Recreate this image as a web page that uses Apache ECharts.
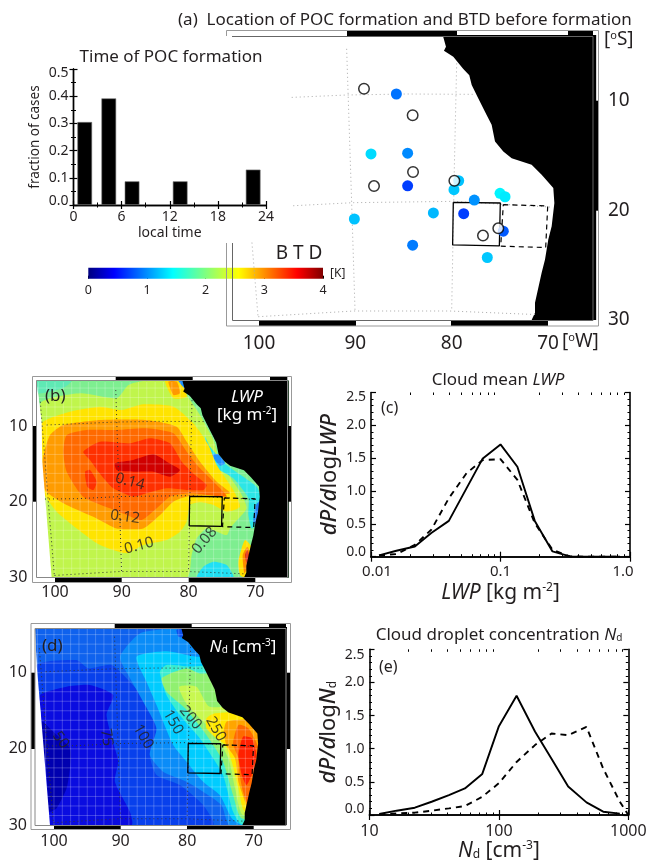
<!DOCTYPE html>
<html><head><meta charset="utf-8">
<style>html,body{margin:0;padding:0;background:#fff}#c{width:650px;height:863px}</style>
<script src="https://cdn.jsdelivr.net/npm/echarts@6/dist/echarts.min.js"></script>
</head><body><div id="c"></div>
<script>
// ---------- inset: time of POC formation
const hourBins = [1.4, 4.4, 7.3, 13.3, 22.4];
const hourFractions = [0.305, 0.392, 0.087, 0.087, 0.13];
// ---------- panel (a): [lon, lat, BTD]
const pocFilled = [[85.74,9.39,0.95],[88.37,14.85,1.36],[84.57,14.79,1.04],[84.57,17.76,0.74],[79.27,17.3,1.26],[79.76,18.12,1.28],[77.65,19.06,1.07],[74.98,18.45,1.46],[74.46,18.76,1.42],[81.9,20.24,1.22],[78.75,20.3,0.74],[74.64,21.9,0.85],[90.1,20.79,1.26],[84.05,23.18,0.98],[76.3,24.3,1.28]];
const pocOpen = [[89.1,8.91],[84.05,11.33],[84.01,16.5],[88.06,17.79],[79.72,17.3],[75.16,21.64],[76.75,22.3]];
const btdTicks = [0,1,2,3,4];
const jetColors = ['#00007f','#0000ff','#00ffff','#ffff00','#ff0000','#7f0000'];
const jetStops = [0,0.11,0.36,0.64,0.89,1];
const coast = [[80.93,4.0],[80.59,5.09],[80.8,5.45],[79.83,6.0],[78.79,7.12],[78.17,7.67],[77.92,8.58],[77.23,9.79],[76.37,11.3],[75.85,12.2],[75.5,13.73],[74.64,14.64],[73.77,15.24],[71.7,15.85],[70.66,16.76],[69.45,17.97],[69.34,19.33],[69.62,21.45],[69.97,22.67],[70.31,24.48],[70.66,25.7],[71.35,28.42],[71.35,29.33],[71.7,30],[65,30],[65,4.0]];
const parallel10 = [[101.25,9.87],[96.6,9.7],[90.9,9.48],[84.67,9.39],[77.75,9.42]];
const parallel20 = [[101.5,19.63],[96.44,19.58],[90.2,19.3],[79.8,19.18],[69.8,19.7]];
const parallel30 = [[100.07,29.7],[90.2,29.18],[80.2,29.18],[71.35,29.5]];
const meridian100 = [[102.2,6.8],[100.73,22.94],[100.1,29.66]];
const meridian90 = [[90.9,5.27],[90.38,19.33],[90.03,29.18]];
const meridian80 = [[79.48,6.6],[79.72,16],[80,29.18]];
const solidBox = [[79.83,19.27],[74.95,19.33],[75.05,23.24],[79.9,23.15],[79.83,19.27]];
const dashedBox = [[74.64,19.48],[70.03,19.6],[70.24,23.39],[74.91,23.27],[74.64,19.48]];
const latticeLons = [102.5,101.25,100,98.75,97.5,96.25,95,93.75,92.5,91.25,90,88.75,87.5,86.25,85,83.75,82.5,81.25,80,78.75,77.5,76.25,75,73.75,72.5,71.25,70,68.75];
const latticeLats = [5,6.25,7.5,8.75,10,11.25,12.5,13.75,15,16.25,17.5,18.75,20,21.25,22.5,23.75,25,26.25,27.5,28.75];
// ---------- panel (b): LWP contour bands, painted in order
const lwpBase = [[102.8,4.0],[65,4.0],[65,30],[100.5,30],[101.9,14.7],[102.0,9.4]];
const lwpOutside = [[102.8,4.0],[102.0,9.4],[101.9,14.7],[100.5,30],[103.5,30],[103.5,4.0]];
const lwpTeal = [[102.8,4.0],[97.5,4.0],[98.75,5.0],[102.55,5.7]];
const lwp080 = [[102.15,7.0],[96.25,5.7],[90.76,6.35],[89.0,4.6],[86.77,4.07],[81.78,4.07],[80.28,5.9],[78.28,8.55],[76.28,11.85],[75.28,14.7],[72.29,18.66],[71.3,20.86],[73.29,22.96],[73.79,23.5],[74.29,24.38],[77.28,23.5],[78.78,24.81],[79.53,27.0],[80.28,30],[100.5,30],[101.9,14.7]];
const lwpCoastLow = [[77.53,11.41],[76.78,12.73],[74.29,15.14],[69.79,18.0],[69.19,19.54],[69.54,22.62],[70.54,23.5],[71.04,21.74],[71.04,19.54],[73.29,16.9],[75.78,15.58],[77.03,13.82]];
const lwpCoastMinA = [[76.53,13.82],[75.53,13.74],[74.53,14.92],[75.28,15.23]];
const lwpCoastMinB = [[69.9,20.42],[68.8,19.54],[69.54,23.06],[70.29,22.62]];
const lwpSouthLow = [[78.78,30],[77.78,28.55],[76.28,27.89],[74.29,28.33],[73.29,30]];
const lwpNorthY = [[83.52,4.02],[81.03,4.02],[80.28,6.13],[82.27,6.35]];
const lwpNorthO = [[83.02,4.15],[81.78,4.15],[81.28,5.69],[82.27,5.91]];
const lwpNorthB = [[81.53,4.0],[80.48,4.0],[80.48,5.12]];
const lwp100 = [[102.0,9.65],[97.75,8.11],[93.26,7.45],[90.01,7.89],[86.77,7.14],[82.27,7.45],[79.28,9.65],[77.03,12.51],[75.78,15.14],[73.29,18.44],[72.29,20.64],[74.29,21.3],[76.28,20.42],[78.28,20.07],[79.78,20.42],[80.28,22.62],[81.28,23.94],[83.27,25.03],[86.77,25.69],[89.26,26.79],[93.26,25.69],[96.75,23.5],[99.75,21.3],[101.75,18.66],[101.9,14.7]];
const lwp110 = [[101.9,14.7],[100.75,11.2],[98.75,9.87],[93.26,9.21],[86.27,9.21],[81.78,10.09],[80.28,12.07],[78.28,14.7],[75.78,17.34],[73.79,18.88],[80.28,19.32],[82.27,19.98],[84.27,21.74],[86.77,23.5],[90.76,23.5],[93.76,22.18],[98.25,20.42],[101.5,18.44]];
const lwp120 = [[98.75,13.38],[98.25,11.19],[95.26,10.53],[90.76,10.53],[86.27,10.31],[82.27,10.97],[80.28,13.38],[78.28,15.58],[75.28,18.22],[74.29,19.32],[79.78,18.88],[82.77,19.32],[84.77,20.86],[87.02,22.4],[89.26,21.74],[91.76,20.86],[95.76,19.32],[98.25,16.02]];
const lwp130 = [[95.76,13.38],[93.26,12.07],[88.77,12.29],[85.77,11.63],[82.77,12.29],[81.03,14.7],[79.03,16.46],[77.28,17.78],[77.78,18.44],[80.28,18.44],[83.27,18.22],[86.27,18.88],[88.27,19.32],[91.26,18.22],[93.51,16.02],[94.76,14.48]];
const lwp130b = [[95.5,16.02],[94.76,15.8],[93.76,17.34],[94.26,18.44],[95.16,18.0]];
const lwp140 = [[91.01,14.92],[88.27,14.48],[85.27,13.74],[83.27,14.7],[81.28,15.8],[82.77,16.68],[85.27,16.02],[88.27,16.02],[90.76,15.8]];
const lwpSpotY = [[72.54,27.89],[71.54,25.03],[70.29,26.35],[71.04,29.21],[71.54,30],[72.29,29.65]];
const lwpSpotO = [[71.89,27.01],[71.19,25.91],[70.69,27.01],[71.19,28.77],[71.64,29.43]];
const lwpSpotR = [[71.54,27.01],[71.19,26.35],[70.89,27.23],[71.29,28.11]];
const lwpBands = [lwpBase,lwpTeal,lwp080,lwpCoastLow,lwpCoastMinA,lwpCoastMinB,lwpSouthLow,lwpNorthY,lwpNorthO,lwpNorthB,lwp100,lwp110,lwp120,lwp130,lwp130b,lwp140,lwpSpotY,lwpSpotO,lwpSpotR];
const lwpColors = ['#7eee90','#5fe9b4','#c0f54c','#2ce6e6','#1e90ff','#1e80f5','#20e0f4','#ffe000','#ff9800','#1e90ff','#ffe400','#ff9c00','#ff6a00','#ff3000','#ff3000','#d00000','#ffe000','#ff8c00','#e03010'];
const lwpLabels = [[88.77,17.34,'0.14',-15],[89.5,22,'0.12',-8],[87.4,25.8,'0.10',15],[77.6,25.1,'0.08',50]];
// ---------- panel (d): Nd contour bands, painted in order
const ndBase = [[102.85,4.2],[65,4.2],[65,30],[100.6,30],[102.0,15.12],[102.6,8.99]];
const ndOutside = [[102.85,4.2],[102.6,8.99],[102.0,15.12],[100.6,30],[103.5,30],[103.5,4.2]];
const nd100 = [[102.6,8.99],[96.6,8.34],[94.85,9.43],[91.35,8.99],[88.85,10.96],[86.1,13.8],[84.6,17.3],[85.6,20.81],[84.6,23.43],[81.1,24.75],[77.6,27.37],[76.1,30],[100.6,30],[102.0,15.12]];
const nd75 = [[102.1,12.93],[98.1,11.84],[94.6,11.62],[91.1,12.93],[92.1,15.56],[90.85,19.93],[90.35,21.68],[90.85,24.31],[88.6,28.25],[88.35,30],[100.6,30],[102.0,15.12]];
const nd50 = [[101.85,16.43],[100.1,17.74],[97.6,19.93],[97.6,22.56],[98.1,25.18],[99.6,27.81],[100.7,28.25],[101.1,23.43]];
const nd125 = [[90.1,7.9],[87.1,4.84],[81.6,4.2],[65,4.2],[65,30],[73.6,30],[74.85,27.37],[77.6,25.62],[80.1,24.31],[83.6,23.0],[85.6,20.81],[84.6,17.3],[86.6,13.8],[88.85,10.3]];
const nd150 = [[87.6,7.9],[83.1,7.2],[78.6,7.9],[65,7.9],[65,30],[71.8,30],[73.3,29.12],[75.1,26.06],[77.6,24.31],[80.1,21.68],[82.1,19.5],[83.6,16.43],[84.6,14.24],[86.1,11.18]];
const nd175 = [[84.1,9.87],[83.1,8.99],[79.6,9.2],[65,9.2],[65,30],[71.8,29.91],[73.1,28.25],[74.6,23.43],[76.1,21.25],[78.1,18.62],[81.1,15.56],[83.1,12.93]];
const nd200 = [[83.8,10.74],[80.1,9.43],[78.1,10.09],[65,10.09],[65,30],[71.8,29.12],[73.1,26.06],[74.6,21.68],[77.1,18.18],[80.3,14.68],[83.1,12.49]];
const nd225 = [[81.2,11.84],[78.6,11.84],[76.6,14.46],[65,14.46],[65,28.69],[71.6,28.69],[72.8,25.18],[73.8,21.25],[76.1,17.74],[78.6,15.56],[80.3,13.8]];
const nd250 = [[77.1,16.0],[75.8,15.34],[65,15.34],[65,28.25],[71.3,28.25],[72.3,25.18],[73.3,21.68],[74.3,19.5],[75.6,18.62],[77.1,17.3]];
const nd275 = [[74.1,16.43],[72.6,16.21],[65,16.21],[65,28.03],[70.8,28.03],[71.3,26.94],[72.3,24.31],[72.8,21.25],[74.1,19.5],[74.5,17.74]];
const nd300 = [[72.3,16.87],[70.8,17.3],[69.3,19.93],[69.8,23.0],[70.8,27.37],[71.6,25.62],[72.1,23.43],[72.3,21.25],[73.1,19.28]];
const nd325 = [[71.6,18.4],[70.3,18.62],[69.6,20.81],[70.3,23.43],[71.1,24.75],[71.8,23.43],[72.3,20.81]];
const ndNotch = [[81.6,4.4],[80.8,4.2],[80.5,5.27],[81.3,5.27]];
const ndBands = [ndBase,nd100,nd75,nd50,nd125,nd150,nd175,nd200,nd225,nd250,nd275,nd300,nd325,ndNotch];
const ndColors = ['#0f62ee','#0840ec','#0a0ce0','#0000b0','#0a8cf8','#00ccff','#38ecd0','#90f070','#c8f850','#ffe800','#ffa500','#ff6a00','#ff2000','#0a50ee'];
const ndLabels = [[99,18.84,'50',-55],[92.1,18.5,'75',-80],[86.6,18.4,'100',-60],[82.1,16.5,'150',-60],[79.5,15.9,'200',-50],[75.7,17.4,'250',-60]];
// ---------- panel (c): dP/dlogLWP
const lwpBins = [0.01153,0.0157,0.0218,0.0292,0.0399,0.0546,0.0726,0.1,0.135,0.184,0.252,0.344,0.462,0.838];
const lwpPocSolid = [0.02,0.09,0.155,0.36,0.545,1.04,1.49,1.71,1.37,0.545,0.08,0.005,0,0];
const lwpEnvDashed = [0.02,0.04,0.18,0.41,0.89,1.27,1.47,1.485,1.17,0.51,0.105,0.005,0,0];
// ---------- panel (e): dP/dlogNd
const ndBins = [11.9,16.2,22.4,30.2,41.1,54.6,74.4,100,137,190,255,343,475,640,860];
const ndPocSolid = [0.015,0.065,0.11,0.2,0.3,0.4,0.62,1.34,1.8,1.26,0.85,0.43,0.19,0.05,0.02];
const ndEnvBins = [11.9,16.2,22.4,30.2,41.1,54.6,74.4,100,137,190,255,343,475,640,860,1000];
const ndEnvDashed = [0.01,0.025,0.035,0.065,0.1,0.135,0.275,0.48,0.8,1.055,1.23,1.205,1.33,0.7,0.2,0];
const lwpMinorTicks = [0.02,0.03,0.04,0.05,0.06,0.07,0.08,0.09,0.2,0.3,0.4,0.5,0.6,0.7,0.8,0.9];
const ndMinorTicks = [20,30,40,50,60,70,80,90,200,300,400,500,600,700,800,900];

const FONT = '"Noto Sans", sans-serif', INK = '#231f20';
const grid=[], xAxis=[], yAxis=[], series=[], graphic=[];
const none = {show:false};
function addGrid(l,t,r,b){grid.push({left:l,top:t,width:r-l,height:b-t,containLabel:false});return grid.length-1;}
function rings(idx,list,colors,z,smooth){
  series.push({type:'custom',xAxisIndex:idx.x,yAxisIndex:idx.y,z,silent:true,clip:false,animation:false,
    data:list.map((r,i)=>({value:[r[0][0],r[0][1],i]})),
    renderItem:(p,api)=>{const i=api.value(2);const s=p.coordSys;
      const shape={points:list[i].map(q=>api.coord(q))};
      if(smooth&&i>0){shape.smooth=smooth;shape.smoothConstraint=[[s.x,s.y],[s.x+s.width,s.y+s.height]];}
      return {type:'polygon',shape,style:{fill:colors[i]}};}});
}
function poly(idx,data,color,width,dash,z){
  series.push({type:'line',xAxisIndex:idx.x,yAxisIndex:idx.y,data,symbol:'none',z,silent:true,clip:false,animation:false,
    lineStyle:{color,width,type:dash}});
}
function mapPanel(cfg){
  const g=addGrid(cfg.ix0,cfg.iy0,cfg.ix1,cfg.iy1);
  const x=xAxis.length,y=yAxis.length;
  xAxis.push({gridIndex:g,type:'value',inverse:true,min:cfg.lonR,max:cfg.lonL,axisLine:none,axisTick:none,splitLine:none,
    axisLabel:{customValues:[100,90,80,70],margin:cfg.xm,fontSize:cfg.fs,color:INK,fontFamily:FONT}});
  yAxis.push({gridIndex:g,type:'value',inverse:true,min:cfg.latT,max:30,position:cfg.ypos,axisLine:none,axisTick:none,splitLine:none,
    axisLabel:{customValues:[10,20,30],margin:cfg.ym,fontSize:cfg.fs,color:INK,fontFamily:FONT,padding:[cfg.ypad,0,0,0]}});
  const idx={x,y};
  if(cfg.bands) rings(idx,cfg.bands,cfg.colors,1,0.2);
  if(cfg.bands){
    const lines=[...latticeLons.map(l=>[[l,4.2],[l,30]]),...latticeLats.map(l=>[[65.2,l],[102.8,l]])];
    lines.forEach(d=>poly(idx,d,'rgba(255,255,255,0.33)',0.7,'solid',2));
    rings(idx,[cfg.outside],['#fff'],3);
  }
  rings(idx,[coast],['#000'],3);
  const dc=cfg.dot, gl=cfg.bands?[parallel10,parallel20,parallel30,meridian100,meridian90,meridian80]:
     [parallel10.slice(1),parallel20.slice(1),parallel30,meridian100.slice(1),meridian90,meridian80];
  gl.forEach(d=>poly(idx,d,dc,1,[1,3],4));
  poly(idx,solidBox,'#000',1.3,'solid',5);
  poly(idx,dashedBox,'#000',1.2,[5,4],5);
  if(cfg.labels) series.push({type:'scatter',xAxisIndex:x,yAxisIndex:y,symbolSize:0,z:6,silent:true,animation:false,clip:false,
    data:cfg.labels.map(l=>({value:[l[0],l[1]],label:{show:true,position:'inside',formatter:l[2],rotate:l[3],fontSize:15,color:'#222',fontFamily:FONT}}))});
  return idx;
}
function rect(x,y,w,h,fill){graphic.push({type:'rect',z:50,silent:true,shape:{x,y,width:w,height:h},style:{fill}});}
function pline(pts,stroke){graphic.push({type:'polyline',z:50,silent:true,shape:{points:pts},style:{stroke,fill:null,lineWidth:1}});}
function txt(x,y,rich,text,size,extra){graphic.push({type:'text',z:60,silent:true,x,y,style:Object.assign({text,fontSize:size,fontFamily:FONT,fill:INK,verticalAlign:'middle',align:'left',rich},extra||{})});}

// ----- panel a
const aIdx = mapPanel({ix0:232,iy0:36,ix1:593,iy1:320,lonR:65.33,lonL:102.8,latT:4.1,xm:14,ym:15,fs:19,ypad:10,ypos:'right',dot:'#aaa'});
series.push({type:'scatter',xAxisIndex:aIdx.x,yAxisIndex:aIdx.y,data:pocFilled,symbolSize:11,z:7,animation:false,silent:true,itemStyle:{opacity:1}});
const filledSeries=series.length-1;
series.push({type:'scatter',xAxisIndex:aIdx.x,yAxisIndex:aIdx.y,data:pocOpen,symbolSize:10.5,z:8,animation:false,silent:true,itemStyle:{color:'#fff',borderColor:'#000',borderWidth:1.5}});
[[347,31,110,5],[568,31,25,5],[259,320,97,6],[451,320,97,6],[593,100.7,6,110]].forEach(s=>rect(s[0],s[1],s[2],s[3],'#000'));
pline([[226.5,36],[226.5,30.5],[598.5,30.5],[598.5,326],[226.5,326],[226.5,243]],'#999');
pline([[232,36.5],[593,36.5],[593,320.5],[232.5,320.5],[232.5,243]],'#666');

// ----- inset
{
  const g=addGrid(73.5,69,266,205), x=xAxis.length, y=yAxis.length;
  const tk={show:true,inside:true,length:4,lineStyle:{color:'#000',width:1.2}};
  const mt={show:true,length:2.5,lineStyle:{color:'#000',width:1}};
  const ln={show:true,lineStyle:{color:'#000',width:1.4}};
  const lab={fontSize:14,color:INK,fontFamily:FONT,margin:5};
  xAxis.push({gridIndex:g,type:'value',min:0,max:24,interval:6,axisLine:ln,axisTick:tk,minorTick:Object.assign({},mt,{splitNumber:2}),splitLine:none,axisLabel:lab,
    name:'local time',nameLocation:'middle',nameGap:21,nameTextStyle:{fontSize:14,color:INK,fontFamily:FONT}});
  xAxis.push({gridIndex:g,type:'value',position:'top',min:0,max:24,interval:6,axisLine:ln,axisTick:tk,minorTick:Object.assign({},mt,{splitNumber:2}),splitLine:none,axisLabel:none});
  yAxis.push({gridIndex:g,type:'value',min:0,max:0.5,interval:0.1,axisLine:ln,axisTick:tk,minorTick:Object.assign({},mt,{splitNumber:2}),splitLine:none,
    axisLabel:Object.assign({},lab,{lineHeight:8,formatter:v=>v.toFixed(1),verticalAlignMinLabel:'bottom',verticalAlignMaxLabel:'top'}),
    name:'fraction of cases',nameLocation:'middle',nameGap:31,nameRotate:90,nameTextStyle:{fontSize:13.5,color:INK,fontFamily:FONT}});
  yAxis.push({gridIndex:g,type:'value',position:'right',min:0,max:0.5,interval:0.1,axisLine:ln,axisTick:tk,minorTick:Object.assign({},mt,{splitNumber:2}),splitLine:none,axisLabel:none});
  series.push({type:'bar',xAxisIndex:x,yAxisIndex:y,data:hourBins.map((h,i)=>[h,hourFractions[i]]),barWidth:14.7,animation:false,silent:true,
    itemStyle:{color:'#000',borderColor:'#777',borderWidth:0.6}});
}
// ----- colour bar
{
  const g=addGrid(88.3,267.7,323,278.7), x=xAxis.length, y=yAxis.length;
  xAxis.push({gridIndex:g,type:'value',min:0,max:4,interval:1,axisLine:none,splitLine:none,axisTick:{show:true,inside:true,length:3,lineStyle:{color:'#000'}},
    axisLabel:{fontSize:12.5,color:INK,fontFamily:FONT,margin:5,formatter:v=>btdTicks.includes(v)?String(v):''}});
  yAxis.push({gridIndex:g,type:'value',min:0,max:1,show:false});
  series.push({type:'custom',xAxisIndex:x,yAxisIndex:y,z:3,silent:true,animation:false,clip:false,data:[[0,0,4,1]],
    renderItem:(p,api)=>{const a=api.coord([api.value(0),api.value(3)]),b=api.coord([api.value(2),api.value(1)]);
      return {type:'rect',shape:{x:a[0],y:a[1],width:b[0]-a[0],height:b[1]-a[1]},
        style:{fill:new echarts.graphic.LinearGradient(0,0,1,0,jetStops.map((s,i)=>({offset:s,color:jetColors[i]})))}};}});
}
// ----- panel b
mapPanel({ix0:36.3,iy0:380.7,ix1:287.3,iy1:577.7,lonR:65.21,lonL:102.8,latT:4.03,xm:7,ym:9,fs:16,ypad:0,ypos:'left',dot:'#333',bands:lwpBands,colors:lwpColors,labels:lwpLabels,outside:lwpOutside});
[[115.7,376.5,77,4.2],[270,376.5,17.3,4.2],[55,577.7,66.7,4.6],[188.7,577.7,66.6,4.6],[32.5,426,3.8,75.7],[287.3,426,4.4,75.7]].forEach(s=>rect(s[0],s[1],s[2],s[3],'#000'));
pline([[32.5,376.5],[291.5,376.5],[291.5,582.5],[32.5,582.5],[32.5,376.5]],'#999');
pline([[36.5,380.5],[287.5,380.5],[287.5,577.5],[36.5,577.5],[36.5,380.5]],'#888');
// ----- panel d
mapPanel({ix0:35,iy0:628.3,ix1:286,iy1:825,lonR:65.15,lonL:102.85,latT:4.17,xm:8,ym:8,fs:16,ypad:3,ypos:'left',dot:'#333',bands:ndBands,colors:ndColors,labels:ndLabels,outside:ndOutside});
[[114.7,623.5,77,4.8],[269,623.5,17,4.8],[54,825,66.7,4.3],[187,825,66.7,4.3],[31,672.7,4,76.3],[286,672.7,4.7,76.3]].forEach(s=>rect(s[0],s[1],s[2],s[3],'#000'));
pline([[31,623.5],[290.5,623.5],[290.5,829.5],[31,829.5],[31,623.5]],'#999');
pline([[35,628.5],[286,628.5],[286,825.5],[35,825.5],[35,628.5]],'#888');

// ----- line panels
function linePanel(c){
  const g=addGrid(c.l,c.t,c.r,c.b), x=xAxis.length, y=yAxis.length;
  const ln={show:true,lineStyle:{color:'#000',width:1.6}};
  const tk={show:true,inside:true,length:5,lineStyle:{color:'#000',width:1.2}};
  const mt={show:true,inside:true,length:2.5,lineStyle:{color:'#000',width:1}};
  const base={gridIndex:g,type:'log',logBase:10,min:c.xmin,max:c.xmax,splitLine:none,splitNumber:2};
  xAxis.push(Object.assign({},base,{axisLine:ln,axisTick:tk,axisLabel:{fontSize:c.xfs,color:INK,fontFamily:FONT,margin:8,formatter:c.xfmt,rich:c.xrich},
    name:c.xname,nameLocation:'middle',nameGap:c.xgap,nameTextStyle:{rich:c.rich,fontSize:21,color:INK,fontFamily:FONT}}));
  xAxis.push(Object.assign({},base,{position:'top',axisLine:ln,axisTick:tk,axisLabel:none}));
  xAxis.push(Object.assign({},base,{position:'bottom',axisLine:none,axisTick:Object.assign({},mt,{customValues:c.minor}),axisLabel:none}));
  xAxis.push(Object.assign({},base,{position:'top',axisLine:none,axisTick:Object.assign({},mt,{customValues:c.minor}),axisLabel:none}));
  yAxis.push({gridIndex:g,type:'value',min:0,max:2.5,interval:0.5,axisLine:ln,axisTick:tk,minorTick:Object.assign({},mt,{splitNumber:5}),splitLine:none,
    axisLabel:{fontSize:14,lineHeight:c.ylh,color:INK,fontFamily:FONT,margin:5,formatter:v=>v.toFixed(1),verticalAlignMinLabel:'bottom',verticalAlignMaxLabel:'top'},
    name:c.yname,nameLocation:'middle',nameGap:c.ygap,nameRotate:90,nameTextStyle:{rich:c.rich,fontSize:22,color:INK,fontFamily:FONT}});
  yAxis.push({gridIndex:g,type:'value',position:'right',min:0,max:2.5,interval:0.5,axisLine:ln,axisTick:tk,minorTick:Object.assign({},mt,{splitNumber:5}),splitLine:none,axisLabel:none});
  const s=(xs,ys,dash)=>series.push({type:'line',xAxisIndex:x,yAxisIndex:y,data:xs.map((v,i)=>[v,ys[i]]),symbol:'none',silent:true,animation:false,z:3,lineStyle:{color:'#000',width:1.9,type:dash}});
  s(c.xs1,c.ys1,'solid'); s(c.xs2,c.ys2,[6,5]);
}
const richText={i:{fontStyle:'italic',fontSize:21,color:INK,fontFamily:FONT},n:{fontSize:21,color:INK,fontFamily:FONT},
  sup:{fontSize:12,color:INK,fontFamily:FONT,padding:[0,0,10,0]},sub:{fontSize:12,color:INK,fontFamily:FONT,padding:[8,0,0,0]},
  iy:{fontStyle:'italic',fontSize:22,fontWeight:500,color:INK,fontFamily:FONT},ny:{fontSize:22,color:INK,fontFamily:FONT}};
const lf={fontSize:15,color:INK,fontFamily:FONT};
linePanel({l:371,t:392.5,r:630,b:556.7,xmin:0.01,xmax:1,xfs:15,minor:lwpMinorTicks,ylh:8.5,
  xrich:{l:Object.assign({padding:[0,0,0,12]},lf),r:Object.assign({padding:[0,14,0,0]},lf)},
  xfmt:v=>v>=1?'{r|1.0}':(v<0.05?'{l|0.01}':'0.1'),xgap:25,ygap:30,rich:richText,
  xname:'{i|LWP} {n|[kg m}{sup|-2}{n|]}',yname:'{iy|dP/d}{ny|log}{iy|LWP}',
  xs1:lwpBins,ys1:lwpPocSolid,xs2:lwpBins,ys2:lwpEnvDashed});
linePanel({l:369.5,t:649.3,r:628.3,b:815,xmin:10,xmax:1000,xfs:16,minor:ndMinorTicks,ylh:11,
  xfmt:v=>String(Math.round(v)),xgap:17,ygap:30,rich:richText,
  xname:'{i|N}{sub|d} {n|[cm}{sup|-3}{n|]}',yname:'{iy|dP/d}{ny|log}{iy|N}{sub|d}',
  xs1:ndBins,ys1:ndPocSolid,xs2:ndEnvBins,ys2:ndEnvDashed});

// ----- free text
const dark=(fs)=>({i:{fontStyle:'italic',fontSize:fs,fontFamily:FONT,fill:INK},n:{fontSize:fs,fontFamily:FONT,fill:INK},s:{fontSize:11,padding:[0,0,8,0],fontFamily:FONT,fill:INK},sub:{fontSize:10,padding:[7,0,0,0],fontFamily:FONT,fill:INK}});
txt(178,20,null,'(a)  Location of POC formation and BTD before formation',17);
txt(171,57,null,'Time of POC formation',17,{align:'center'});
txt(299,254,null,'B T D',19,{align:'center'});
txt(330,274,null,'[K]',12);
txt(604,40,dark(19),'{n|[}{s|o}{n|S]}',19);
txt(562,342,dark(19),'{n|[}{s|o}{n|W]}',19);
txt(45,396,null,'(b)',17);
txt(42,646,null,'(d)',17);
txt(381,408,null,'(c)',16);
txt(379,667,null,'(e)',16);
txt(498,380,dark(17),'{n|Cloud mean }{i|LWP}',17,{align:'center'});
txt(499,635,dark(17),'{n|Cloud droplet concentration }{i|N}{sub|d}',17,{align:'center'});
const wr={i:{fontStyle:'italic',fontSize:17,fontFamily:FONT,fill:'#fff'},n:{fontSize:17,fontFamily:FONT,fill:'#fff'},sup:{fontSize:10,padding:[0,0,8,0],fontFamily:FONT,fill:'#fff'},sub:{fontSize:10,padding:[7,0,0,0],fontFamily:FONT,fill:'#fff'}};
txt(247,397,wr,'{i|LWP}',17,{align:'center'});
txt(247,415,wr,'{n|[kg m}{sup|-2}{n|]}',17,{align:'center'});
txt(243,647,wr,'{i|N}{sub|d}{n| [cm}{sup|-3}{n|]}',17,{align:'center'});

const chart=echarts.init(document.getElementById('c'),null,{renderer:'canvas'});
chart.setOption({animation:false,backgroundColor:'#fff',grid,xAxis,yAxis,series,graphic,
  visualMap:[{show:false,type:'continuous',seriesIndex:filledSeries,dimension:2,min:0,max:4,
    inRange:{color:['#00007f','#0000ff','#0080ff','#00ffff','#80ff80','#ffff00','#ff8000','#ff0000','#7f0000']}}]});
</script></body></html>
